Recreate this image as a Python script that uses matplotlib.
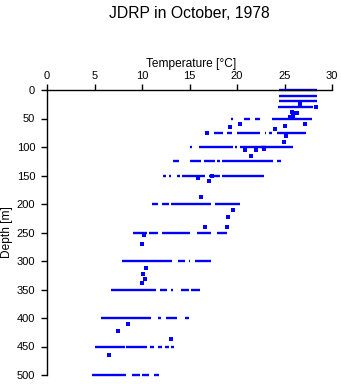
import matplotlib
matplotlib.use("Agg")
import matplotlib.pyplot as plt

plt.rcParams['font.family'] = ['Liberation Sans', 'DejaVu Sans']

# Dense runs of observations at standard depths: depth [m], T start, T end [°C]
seg_depth = [0, 10, 20, 30,
             50, 50, 50, 50,
             75, 75, 75, 75, 75, 75,
             100, 100, 100, 100, 100,
             125, 125, 125, 125, 125, 125,
             150, 150, 150, 150, 150, 150,
             200, 200, 200, 200,
             250, 250, 250, 250, 250,
             300, 300, 300, 300,
             350, 350, 350, 350, 350,
             400, 400, 400, 400, 400,
             450, 450, 450, 450, 450, 450,
             500, 500, 500, 500]
seg_tmin = [24.4, 24.4, 24.4, 24.3,
            19.4, 20.7, 21.9, 23.7,
            17.6, 18.9, 20.0, 22.9, 23.4, 24.2,
            15.1, 16.0, 19.8, 20.3, 22.5,
            13.3, 15.1, 16.5, 17.9, 18.4, 24.2,
            12.2, 12.8, 13.7, 14.2, 17.0, 18.4,
            11.0, 12.1, 13.1, 17.7,
            9.1, 10.7, 12.1, 15.8, 17.9,
            7.9, 13.8, 14.9, 15.6,
            6.7, 11.9, 13.1, 14.1, 15.2,
            5.7, 10.5, 11.7, 12.5, 14.5,
            5.1, 8.3, 10.8, 11.7, 12.4, 13.1,
            4.7, 8.9, 10.0, 11.3]
seg_tmax = [28.4, 28.4, 28.4, 28.0,
            19.6, 21.4, 22.4, 27.9,
            18.5, 19.5, 22.4, 23.1, 23.7, 27.3,
            15.3, 19.6, 20.0, 23.1, 25.9,
            13.9, 16.2, 17.7, 18.2, 23.8, 24.6,
            12.5, 13.0, 14.0, 16.6, 18.2, 22.8,
            11.7, 12.8, 17.3, 20.3,
            10.5, 11.7, 15.1, 17.3, 18.9,
            13.2, 14.5, 15.1, 17.3,
            11.5, 12.6, 13.3, 14.9, 16.1,
            10.5, 10.9, 12.0, 13.7, 14.9,
            8.2, 10.5, 11.3, 12.1, 12.8, 13.4,
            8.3, 9.8, 10.7, 11.8]

# Isolated observations between standard depths
pt_temp = [28.3, 26.6, 25.8, 26.2, 26.3, 25.6, 25.9,
           19.3, 20.3, 24.0, 25.0, 27.2, 16.8, 25.2, 24.9,
           20.8, 22.0, 21.5, 22.8,
           15.9, 17.0, 17.4, 16.2,
           19.6, 19.0, 18.9, 16.6,
           10.2, 10.0,
           10.4, 10.1, 10.3, 10.0,
           8.5, 7.5, 13.1, 6.5]
pt_depth = [30, 25, 38, 41, 40, 47, 45,
            65, 59, 69, 64, 59, 75, 81, 92,
            106, 106, 115, 103,
            155, 159, 150, 187,
            211, 222, 240, 240,
            255, 270,
            313, 322, 331, 338,
            410, 422, 437, 465]

x_ticks = [0, 5, 10, 15, 20, 25, 30]
y_ticks = [0, 50, 100, 150, 200, 250, 300, 350, 400, 450, 500]

fig = plt.figure(figsize=(3.41, 3.84), dpi=100)
ax = fig.add_axes([47 / 341, 9 / 384, 285 / 341, 285 / 384])

blue = '#0000FF'
ax.hlines(seg_depth, seg_tmin, seg_tmax, colors=blue, linewidth=1.7,
          clip_on=False)
ax.scatter(pt_temp, pt_depth, s=5, marker='s', color=blue, linewidths=0,
           clip_on=False)

ax.set_xlim(0, 30)
ax.set_ylim(500, 0)
ax.set_xticks(x_ticks)
ax.set_yticks(y_ticks)

ax.xaxis.tick_top()
ax.xaxis.set_label_position('top')
for s in ['right', 'bottom']:
    ax.spines[s].set_visible(False)
for s in ['left', 'top']:
    ax.spines[s].set_linewidth(1.0)

ax.tick_params(axis='x', direction='out', length=4.3, width=1.0, pad=2.5,
               labelsize=8)
ax.tick_params(axis='y', direction='out', length=4.0, width=1.0, pad=4.5,
               labelsize=8)

ax.set_xlabel('Temperature [°C]', fontsize=8.6)
ax.xaxis.set_label_coords(0.505, 1.08)
ax.set_ylabel('Depth [m]', fontsize=8.6, va='center')
ax.yaxis.set_label_coords(-0.1414, 0.5)

fig.text(189.5 / 341, 1 - 13 / 384, 'JDRP in October, 1978', ha='center',
         va='center', fontsize=11.3)

fig.savefig('out.png', dpi=100)
